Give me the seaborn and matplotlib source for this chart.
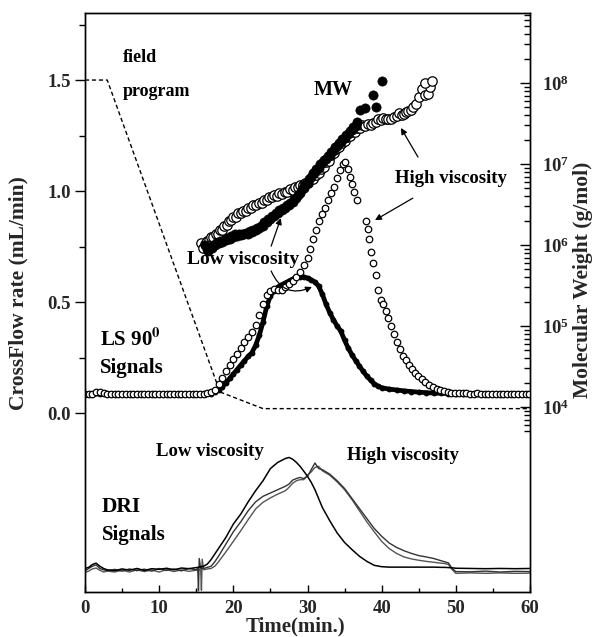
import numpy as np
import pandas as pd
import matplotlib
matplotlib.use("Agg")
import matplotlib.pyplot as plt
from matplotlib.ticker import (FixedLocator, MultipleLocator, FormatStrFormatter,
                               LogFormatterMathtext, NullFormatter)
import seaborn as sns

# Cross-flow field program (mL/min)
field_time = [0, 3, 18.2, 24, 60]
field_flow = [1.5, 1.5, 0.095, 0.02, 0.02]

# LS 90 signal, high viscosity sample (open circles), arbitrary units on left axis
ls_open_time = [0, 0.5, 1, 1.5, 2, 2.5, 3, 3.5, 4, 4.5, 5, 5.5, 6, 6.5, 7, 7.5, 8, 8.5, 9, 9.5,
                10, 10.5, 11, 11.5, 12, 12.5, 13, 13.5, 14, 14.5, 15, 15.5, 16, 16.5, 17,
                17.5, 18, 18.5, 19, 19.5, 20, 20.5, 21, 21.5, 22, 22.5, 23, 23.5, 24, 24.5,
                25, 25.5, 26, 26.5, 27, 27.5, 28, 28.5, 29, 29.5, 30,
                30.4, 30.8, 31.2, 31.6, 32.0, 32.4, 32.8, 33.2, 33.6, 34.0, 34.4, 34.8, 35.1,
                35.4, 35.7, 36.0, 36.3, 36.7,
                37.9, 38.1, 38.3, 38.5, 38.8, 39.2, 39.5, 39.9, 40.2, 40.6, 40.9, 41.3, 41.7,
                42.1, 42.5, 42.9, 43.3, 43.7, 44.1, 44.5, 44.9, 45.4, 45.9, 46.4, 46.9, 47.4,
                47.9, 48.4, 48.9, 49.4, 49.9,
                50.4, 50.9, 51.4, 51.9, 52.4, 52.9, 53.4, 53.9, 54.4, 54.9, 55.4, 55.9, 56.4,
                56.9, 57.4, 57.9, 58.4, 58.9, 59.4, 59.9]
ls_open_signal = [0.084, 0.086, 0.088, 0.093, 0.097, 0.092, 0.087, 0.085, 0.084, 0.085,
                  0.084, 0.085, 0.084, 0.084, 0.085, 0.084, 0.085, 0.084, 0.085, 0.085,
                  0.084, 0.085, 0.085, 0.084, 0.085, 0.085, 0.084, 0.085, 0.085, 0.086,
                  0.086, 0.087, 0.088, 0.091, 0.097,
                  0.106, 0.13, 0.158, 0.19, 0.215, 0.243, 0.268, 0.293, 0.318, 0.342,
                  0.365, 0.395, 0.44, 0.49, 0.53, 0.55, 0.56, 0.555, 0.556, 0.57,
                  0.583, 0.597, 0.612, 0.635, 0.665, 0.70,
                  0.74, 0.785, 0.825, 0.865, 0.895, 0.925, 0.96, 0.99, 1.02, 1.06, 1.095,
                  1.12, 1.13, 1.10, 1.065, 1.03, 0.995, 0.96,
                  0.865, 0.83, 0.785, 0.725, 0.676, 0.622, 0.555, 0.51, 0.49, 0.46, 0.428,
                  0.39, 0.355, 0.318, 0.288, 0.258, 0.237, 0.215, 0.198, 0.182, 0.166,
                  0.152, 0.138, 0.126, 0.116, 0.108, 0.102, 0.098, 0.095, 0.092, 0.091,
                  0.09, 0.089, 0.089, 0.088, 0.088, 0.089, 0.088, 0.088, 0.087, 0.088,
                  0.088, 0.087, 0.088, 0.088, 0.087, 0.088, 0.088, 0.087, 0.088, 0.088]

# LS 90 signal, low viscosity sample (filled circles)
ls_fill_time = [0, 1, 2, 3, 4, 5, 6, 7, 8, 9, 10, 11, 12, 13, 14, 15, 16, 17,
                17.5, 18, 18.5, 19, 19.5, 20, 20.5, 21, 21.5, 22, 22.5, 23, 23.5, 24, 24.5,
                25, 25.5, 26, 26.5, 27, 27.5, 28, 28.5, 29, 29.5, 30, 30.5, 31, 31.5, 32,
                32.5, 33, 33.5, 34, 34.5, 35, 35.5, 36, 36.5, 37, 37.5, 38, 38.5, 39, 39.5, 40,
                41, 42, 43, 44, 45, 46, 47, 48, 49, 50, 51, 52, 53, 54, 55, 56, 57, 58, 59, 60]
ls_fill_signal = [0.084, 0.085, 0.086, 0.085, 0.084, 0.085, 0.084, 0.085, 0.084, 0.085,
                  0.084, 0.085, 0.085, 0.084, 0.085, 0.085, 0.086, 0.088,
                  0.094, 0.104, 0.118, 0.136, 0.156, 0.176, 0.196, 0.216, 0.236, 0.255,
                  0.272, 0.305, 0.35, 0.41, 0.48, 0.528, 0.552, 0.568, 0.578, 0.586,
                  0.595, 0.604, 0.611, 0.615, 0.613, 0.608, 0.6, 0.59, 0.572, 0.535,
                  0.49, 0.452, 0.42, 0.392, 0.368, 0.328, 0.292, 0.262, 0.236, 0.212,
                  0.188, 0.166, 0.148, 0.132, 0.121, 0.114,
                  0.108, 0.104, 0.1, 0.097, 0.094, 0.092, 0.09, 0.089, 0.088, 0.088,
                  0.087, 0.087, 0.087, 0.087, 0.087, 0.087, 0.087, 0.087, 0.087, 0.087]

# Molecular weight, log10(g/mol)
mw_fill_time = [16.2, 16.4, 16.6, 16.9, 17.1, 17.3, 17.5, 17.7, 18.0, 18.2, 18.5, 18.7,
                19.0, 19.2, 19.5, 19.7, 20.0, 20.2, 20.5, 20.7, 21.0, 21.2, 21.5, 21.7,
                22.0, 22.2, 22.5, 22.7, 23.0, 23.2, 23.5, 23.7, 24.0, 24.2, 24.5, 24.7,
                25.0, 25.2, 25.5, 25.7, 26.0, 26.2, 26.5, 26.7, 27.0, 27.2, 27.5, 27.7,
                28.0, 28.2, 28.5, 28.7, 29.0, 29.2, 29.5, 29.7, 30.0, 30.2, 30.5, 30.7,
                31.0, 31.2, 31.5, 31.7, 32.0, 32.2, 32.5, 32.7, 33.0, 33.2, 33.5, 33.7,
                34.0, 34.2, 34.5, 34.7, 35.0, 35.2, 35.5, 35.7, 36.0, 36.2, 36.5, 36.7,
                37.1, 37.7, 38.8, 39.2, 40.0]
mw_fill_log = [6.00, 5.95, 5.93, 5.97, 5.96, 5.99, 6.00, 6.02, 6.02, 6.05, 6.04, 6.06,
               6.06, 6.09, 6.08, 6.11, 6.10, 6.13, 6.11, 6.13, 6.12, 6.14, 6.13, 6.15,
               6.14, 6.17, 6.16, 6.19, 6.18, 6.21, 6.21, 6.24, 6.24, 6.28, 6.28, 6.32,
               6.32, 6.36, 6.36, 6.40, 6.40, 6.43, 6.43, 6.46, 6.46, 6.49, 6.49, 6.52,
               6.53, 6.57, 6.58, 6.62, 6.64, 6.69, 6.70, 6.75, 6.77, 6.82, 6.84, 6.89,
               6.90, 6.94, 6.95, 7.00, 7.01, 7.05, 7.06, 7.10, 7.11, 7.15, 7.16, 7.21,
               7.22, 7.26, 7.27, 7.31, 7.32, 7.36, 7.37, 7.41, 7.42, 7.46, 7.47, 7.52,
               7.67, 7.69, 7.85, 7.70, 8.02]
mw_open_time = [15.7, 15.9, 16.2, 16.4, 16.7, 17.0, 17.3, 17.6, 17.9, 18.2, 18.5, 18.8,
                19.1, 19.4, 19.7, 20.0, 20.3, 20.6, 21.0, 21.3, 21.7, 22.0, 22.4, 22.7,
                23.1, 23.4, 23.8, 24.1, 24.5, 24.8, 25.2, 25.5, 25.9, 26.2, 26.6, 26.9,
                27.3, 27.6, 28.0, 28.3, 28.7, 29.0, 29.4, 29.7, 30.1, 30.4, 30.8, 31.1,
                31.5, 31.8, 32.2, 32.5, 32.9, 33.2, 33.6, 33.9, 34.3, 34.6, 35.0, 35.3,
                35.7, 36.0, 36.4, 36.7, 37.1, 37.4, 37.8, 38.1, 38.5, 38.8, 39.2, 39.5,
                39.9, 40.2, 40.6, 40.9, 41.3, 41.6, 42.0, 42.3, 42.7, 43.0, 43.3, 43.6,
                43.9, 44.2, 44.6, 45.0, 45.4, 45.9, 46.2, 46.5, 45.8, 46.8]
mw_open_log = [6.02, 5.96, 6.01, 6.05, 6.06, 6.10, 6.10, 6.14, 6.14, 6.18, 6.19, 6.24,
               6.25, 6.30, 6.31, 6.35, 6.35, 6.39, 6.39, 6.42, 6.42, 6.46, 6.46, 6.49,
               6.49, 6.52, 6.52, 6.56, 6.56, 6.59, 6.59, 6.62, 6.61, 6.64, 6.63, 6.66,
               6.66, 6.69, 6.68, 6.71, 6.71, 6.74, 6.74, 6.77, 6.77, 6.81, 6.82, 6.87,
               6.89, 6.94, 6.96, 7.02, 7.04, 7.11, 7.13, 7.19, 7.21, 7.26, 7.28, 7.33,
               7.34, 7.39, 7.40, 7.44, 7.45, 7.48, 7.47, 7.49, 7.48, 7.50, 7.52, 7.55,
               7.54, 7.57, 7.55, 7.56, 7.56, 7.58, 7.59, 7.63, 7.61, 7.62, 7.64, 7.66,
               7.67, 7.70, 7.74, 7.83, 7.92, 7.85, 7.86, 7.95, 8.00, 8.02]

# DRI signals (arbitrary units, drawn below the LS panel)
dri_time = [0, 0.5, 1, 1.5, 2, 2.5, 3, 4, 5, 6, 7, 8, 9, 10, 11, 12, 13, 14, 15,
            15.2, 15.3, 15.4, 15.6, 15.7, 15.8, 16, 16.5, 17, 17.5, 18,
            19, 20, 21, 22, 23, 24, 25, 26, 27, 27.5, 28, 28.5, 29, 29.5, 30, 30.5, 31, 31.5, 32,
            33, 34, 35, 36, 37, 38, 39, 40, 41, 42, 43, 44, 45, 46, 47, 48,
            48.5, 49, 49.5, 50, 52, 54, 56, 58, 60]
dri_low = [-0.700, -0.695, -0.682, -0.676, -0.690, -0.700, -0.706,
           -0.710, -0.702, -0.708, -0.700, -0.709, -0.701, -0.704, -0.699, -0.706, -0.698, -0.701, -0.696,
           -0.695, -0.694, -0.694, -0.693, -0.692, -0.691,
           -0.690, -0.680, -0.660, -0.635, -0.610,
           -0.560, -0.500, -0.455, -0.400, -0.350, -0.305, -0.250, -0.222, -0.205,
           -0.200, -0.208, -0.222, -0.240, -0.262, -0.285, -0.312, -0.345, -0.385, -0.425,
           -0.485, -0.540, -0.583, -0.615, -0.645, -0.668, -0.686, -0.692, -0.694, -0.694,
           -0.694, -0.694, -0.694, -0.694, -0.694, -0.695,
           -0.695, -0.696, -0.697, -0.699, -0.700, -0.701, -0.700, -0.701, -0.700]
dri_high_a = [-0.712, -0.700, -0.690, -0.684, -0.700, -0.706, -0.710,
              -0.704, -0.712, -0.702, -0.710, -0.703, -0.712, -0.700, -0.709, -0.702, -0.711, -0.700, -0.706,
              -0.700, -0.800, -0.655, -0.700, -0.698, -0.700,
              -0.700, -0.695, -0.690, -0.670, -0.645,
              -0.590, -0.535, -0.490, -0.440, -0.400, -0.375, -0.360, -0.345, -0.330,
              -0.320, -0.302, -0.295, -0.290, -0.295, -0.285, -0.255, -0.225, -0.250, -0.255,
              -0.275, -0.305, -0.340, -0.385, -0.430, -0.475, -0.520, -0.555, -0.585, -0.605,
              -0.620, -0.632, -0.642, -0.648, -0.655, -0.665,
              -0.670, -0.675, -0.700, -0.714, -0.715, -0.712, -0.716, -0.713, -0.714]
dri_high_b = [-0.718, -0.712, -0.702, -0.698, -0.708, -0.716, -0.712,
              -0.716, -0.708, -0.716, -0.706, -0.714, -0.707, -0.716, -0.705, -0.714, -0.706, -0.713, -0.708,
              -0.708, -0.706, -0.706, -0.706, -0.798, -0.658,
              -0.706, -0.702, -0.700, -0.690, -0.670,
              -0.625, -0.578, -0.530, -0.480, -0.432, -0.402, -0.382, -0.365, -0.350,
              -0.335, -0.316, -0.305, -0.300, -0.300, -0.280, -0.265, -0.245, -0.240, -0.260,
              -0.280, -0.310, -0.345, -0.390, -0.440, -0.490, -0.535, -0.578, -0.610, -0.632,
              -0.648, -0.657, -0.663, -0.668, -0.672, -0.676,
              -0.678, -0.682, -0.705, -0.722, -0.720, -0.722, -0.720, -0.722, -0.721]

W, H = 595, 637


def fx(x):
    return x / W


def fy(y):
    return 1 - y / H


sns.set_style("ticks")
plt.rcParams['font.family'] = ['Liberation Serif', 'DejaVu Serif']
plt.rcParams['font.weight'] = 'bold'
plt.rcParams['axes.labelweight'] = 'bold'
plt.rcParams['mathtext.fontset'] = 'stix'
plt.rcParams['mathtext.default'] = 'bf'

fig = plt.figure(figsize=(5.95, 6.37), dpi=100)
ax = fig.add_axes([fx(85), 45 / H, 445 / W, 579 / H])

# field program
sns.lineplot(x=field_time, y=field_flow, ax=ax, color='black', lw=1.0,
             linestyle=(0, (3, 2)), zorder=2)

# DRI traces
dri = pd.DataFrame({'t': dri_time, 'low': dri_low, 'a': dri_high_a, 'b': dri_high_b})
sns.lineplot(data=dri, x='t', y='b', ax=ax, color='#555555', lw=1.0, zorder=2)
sns.lineplot(data=dri, x='t', y='a', ax=ax, color='#333333', lw=1.0, zorder=2)
sns.lineplot(data=dri, x='t', y='low', ax=ax, color='black', lw=1.1, zorder=2)

# LS signals
sns.lineplot(x=ls_fill_time, y=ls_fill_signal, ax=ax, color='black', lw=3.4,
             marker='o', markersize=4.2, markeredgewidth=0, zorder=3)
sns.scatterplot(x=ls_open_time, y=ls_open_signal, ax=ax, s=22, color='white',
                edgecolor='black', linewidth=0.9, zorder=4)

ax.set_xlim(0, 60)
ax.set_ylim(-0.806, 1.802)
ax.xaxis.set_major_locator(MultipleLocator(10))
ax.xaxis.set_minor_locator(MultipleLocator(5))
ax.yaxis.set_major_locator(FixedLocator([0.0, 0.5, 1.0, 1.5]))
ax.yaxis.set_minor_locator(FixedLocator([0.25, 0.75, 1.25, 1.75]))
ax.yaxis.set_major_formatter(FormatStrFormatter('%.1f'))
ax.tick_params(axis='x', which='both', direction='in', top=False, labelsize=13.5,
               pad=6, width=1, color='black')
ax.tick_params(axis='x', which='major', length=5)
ax.tick_params(axis='x', which='minor', length=3)
ax.tick_params(axis='y', which='both', direction='out', right=False, labelsize=13.5,
               pad=3, width=1, color='black')
ax.tick_params(axis='y', which='major', length=7)
ax.tick_params(axis='y', which='minor', length=4)
for sp in ax.spines.values():
    sp.set_linewidth(1.0)
    sp.set_color('black')
    sp.set_visible(True)

ax.set_xlabel('Time(min.)', fontsize=15, fontweight='bold')
ax.xaxis.set_label_coords(0.472, -0.042)
ax.set_ylabel('CrossFlow rate (mL/min)', fontsize=15.5, fontweight='bold')
ax.yaxis.set_label_coords(-0.128, 0.517)

# molecular weight on log right axis
ax2 = ax.twinx()
ax2.set_yscale('log')
sns.scatterplot(x=mw_open_time, y=10 ** np.array(mw_open_log), ax=ax2, s=46,
                color='white', edgecolor='black', linewidth=0.9, zorder=5)
sns.scatterplot(x=mw_fill_time, y=10 ** np.array(mw_fill_log), ax=ax2, s=44,
                color='black', edgecolor='black', linewidth=0.5, zorder=6)
ax2.set_xlim(0, 60)
ax2.set_ylim(10 ** 1.716, 10 ** 8.864)
ax2.yaxis.set_major_locator(FixedLocator([1e4, 1e5, 1e6, 1e7, 1e8]))
minor = [m * 10.0 ** e for e in range(3, 9) for m in range(2, 10)
         if 5e3 <= m * 10.0 ** e <= 7e8]
ax2.yaxis.set_minor_locator(FixedLocator(minor))
ax2.yaxis.set_major_formatter(LogFormatterMathtext())
ax2.yaxis.set_minor_formatter(NullFormatter())
ax2.tick_params(axis='y', which='both', direction='in', labelsize=13.5, pad=9,
                width=1, color='black')
ax2.tick_params(axis='y', which='major', length=7)
ax2.tick_params(axis='y', which='minor', length=4)
for sp in ax2.spines.values():
    sp.set_linewidth(1.0)
    sp.set_color('black')
ax2.set_ylabel('Molecular Weight (g/mol)', fontsize=15.5, fontweight='bold')
ax2.yaxis.set_label_coords(1.097, 0.539)

# annotations
arrow = dict(arrowstyle='-|>', color='black', lw=0.9, mutation_scale=9,
             shrinkA=0, shrinkB=0)
ax.annotate('', xy=(42.6, 1.284), xytext=(44.9, 1.153), arrowprops=arrow, zorder=7)
ax.annotate('', xy=(39.1, 0.869), xytext=(44.2, 0.968), arrowprops=arrow, zorder=7)
ax.annotate('', xy=(26.4, 0.878), xytext=(25.1, 0.752), arrowprops=arrow, zorder=7)
ax.annotate('', xy=(30.6, 0.568), xytext=(25.1, 0.64),
            arrowprops=dict(arrow, connectionstyle='arc3,rad=0.5'), zorder=7)

txt = dict(fontweight='bold', color='black', va='center')
fig.text(fx(123), fy(58), 'field', ha='left', fontsize=13, **txt)
fig.text(fx(123), fy(91), 'program', ha='left', fontsize=13, **txt)
fig.text(fx(333), fy(90), 'MW', ha='center', fontsize=14.5, **txt)
fig.text(fx(451), fy(178), 'High viscosity', ha='center', fontsize=13.5, **txt)
fig.text(fx(243), fy(260), 'Low viscosity', ha='center', fontsize=14, **txt)
fig.text(fx(100), fy(340), r'LS 90$^{0}$', ha='left', fontsize=15, **txt)
fig.text(fx(100), fy(368), 'Signals', ha='left', fontsize=15, **txt)
fig.text(fx(210), fy(451), 'Low viscosity', ha='center', fontsize=13.5, **txt)
fig.text(fx(403), fy(455), 'High viscosity', ha='center', fontsize=13.5, **txt)
fig.text(fx(102), fy(507), 'DRI', ha='left', fontsize=15.5, **txt)
fig.text(fx(102), fy(535), 'Signals', ha='left', fontsize=15, **txt)

fig.savefig('out.png', dpi=100, facecolor='white')
